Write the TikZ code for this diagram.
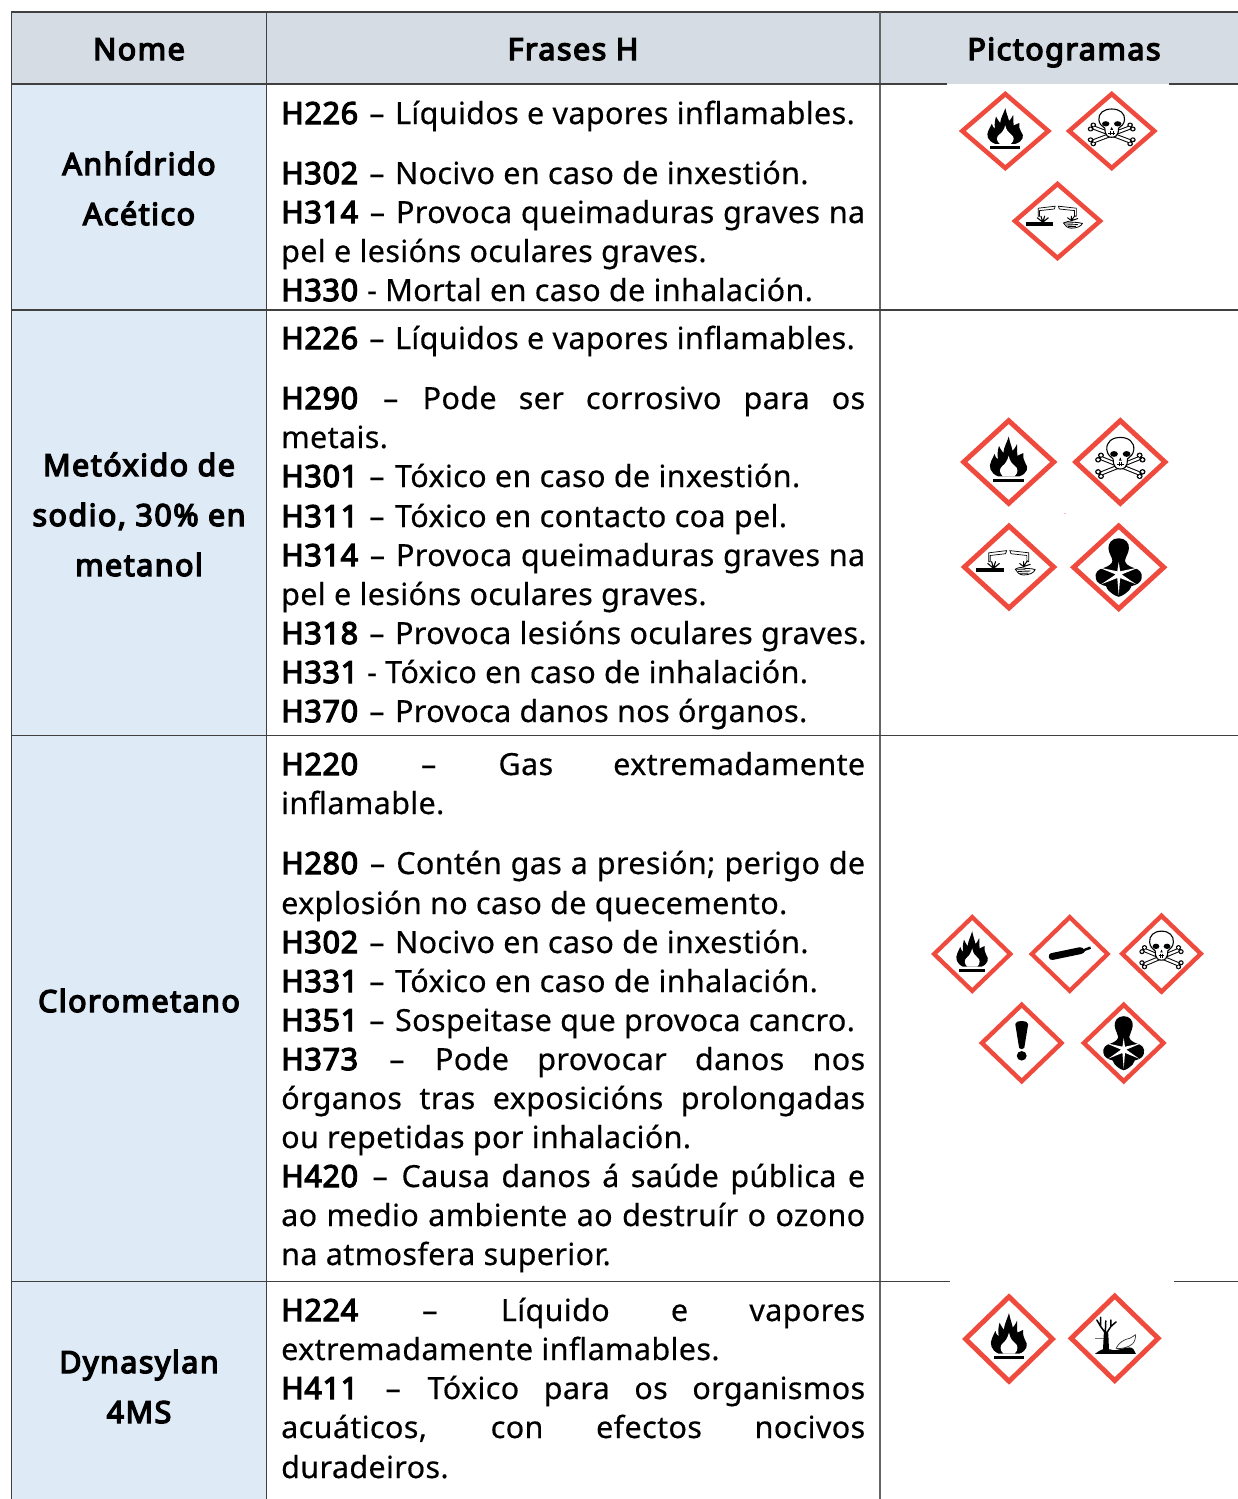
\documentclass[tikz,border=0pt]{standalone}
\usepackage{fontspec}
\setmainfont{Noto Sans}[BoldFont={Noto Sans},BoldFeatures={FakeBold=4,LetterSpace=2.2},LetterSpace=1.2,FakeBold=0.4]
\newfontfamily\capfont{Noto Sans}[FakeBold=4.5,LetterSpace=4.8]
\definecolor{headfill}{HTML}{D5DCE4}
\definecolor{namefill}{HTML}{DEEAF6}
\definecolor{gridcol}{HTML}{404040}
\definecolor{ghsred}{HTML}{EE4B3E}
\newcommand{\jl}[1]{\makebox[584pt][s]{#1}}
\newcommand{\hc}[1]{\textbf{#1}}
\newcommand{\dd}{\kern2.2pt–\kern2.2pt}
\newcommand{\ghsdmd}{\fill[ghsred,even odd rule] (-100,0)--(0,-100)--(100,0)--(0,100)--cycle (-85,0)--(0,-85)--(85,0)--(0,85)--cycle;}
\tikzset{
  txt/.style={anchor=base west,inner sep=0pt,font=\fontsize{30.5}{35}\selectfont,text=black},
  captxt/.style={anchor=base,inner sep=0pt,font=\fontsize{30.5}{35}\capfont,text=black},
  gridline/.style={draw=gridcol,line width=1.5pt},
  ghsflame/.pic={
    \ghsdmd
    \fill[black] (-22,32) .. controls (-38,25) and (-42,10) .. (-36,-2)
      .. controls (-34,-8) and (-31,-12) .. (-29,-18)
      .. controls (-27,-10) and (-25,-8) .. (-22,-6)
      .. controls (-24,-18) and (-22,-28) .. (-20,-36)
      .. controls (-17,-28) and (-13,-24) .. (-11,-20)
      .. controls (-10,-34) and (-3,-45) .. (0,-57)
      .. controls (2,-45) and (6,-35) .. (8,-25)
      .. controls (10,-28) and (14,-32) .. (17,-40)
      .. controls (18,-30) and (16,-22) .. (18,-14)
      .. controls (22,-16) and (26,-18) .. (30,-20)
      .. controls (30,-10) and (30,-4) .. (34,2)
      .. controls (42,12) and (38,26) .. (22,32) -- cycle;
    \fill[white] (-12,32) .. controls (-20,24) and (-20,14) .. (-12,8)
      .. controls (-8,5) and (-3,-2) .. (0,-14)
      .. controls (2,-2) and (7,4) .. (12,8)
      .. controls (20,14) and (20,24) .. (12,32) -- cycle;
    \fill[black] (-32,38) rectangle (32,44);
  },
  ghsskull/.pic={
    \ghsdmd
    \foreach \a/\b/\c/\d in {-38/-8/38/25,38/-8/-38/25}{
      \draw[black,line width=4.2pt,line cap=round] (\a,\b) -- (\c,\d);
    }
    \foreach \sx in {-1,1}{
      \fill[black] (\sx*40,-15) circle[radius=6.2] (\sx*46,-5) circle[radius=6.2]
                   (\sx*40,32) circle[radius=6.2] (\sx*46,22) circle[radius=6.2];
      \fill[white] (\sx*40,-15) circle[radius=3.6] (\sx*46,-5) circle[radius=3.6]
                   (\sx*40,32) circle[radius=3.6] (\sx*46,22) circle[radius=3.6];
    }
    \foreach \a/\b/\c/\d in {-38/-8/38/25,38/-8/-38/25}{
      \draw[white,line width=2.2pt,line cap=round] (\a,\b) -- (\c,\d);
    }
    \draw[black,line width=1.1pt,fill=white] (0,-55) .. controls (-18,-55) and (-29,-44) .. (-28,-28)
      .. controls (-27,-17) and (-21,-12) .. (-15,-7)
      .. controls (-15,0) and (-14,8) .. (-10,12)
      .. controls (-6,17) and (6,17) .. (10,12)
      .. controls (14,8) and (15,0) .. (15,-7)
      .. controls (21,-12) and (27,-17) .. (28,-28)
      .. controls (29,-44) and (18,-55) .. (0,-55) -- cycle;
    \fill[black] (-13,-18) ellipse[x radius=8,y radius=6.5] (13,-18) ellipse[x radius=8,y radius=6.5];
    \fill[black] (0,-10) -- (-3,-3) -- (3,-3) -- cycle;
    \draw[black,line width=.7pt] (-7,5) -- (7,5) (-3,1) -- (-3,10) (3,1) -- (3,10);
  },
  ghscorr/.pic={
    \ghsdmd
    \draw[black,line width=.7pt,fill=white] (-39,-26) -- (-7,-30) -- (-5,-37) -- (-42,-32) -- (-42,-12) -- (-39,-12) -- cycle;
    \draw[black,line width=.7pt,fill=white] (37,-26) -- (4,-30) -- (2,-37) -- (41,-32) -- (41,-12) -- (37,-12) -- cycle;
    \fill[black] (-68,3) rectangle (-10,12);
    \draw[black,line width=1.1pt,line cap=round] (-32,3) -- (-44,-8) (-32,3) -- (-36,-12) (-32,3) -- (-28,-12) (-32,3) -- (-20,-8);
    \draw[black,line width=1pt,line cap=round] (30,-1) -- (22,-8) (30,-1) -- (30,-12) (30,-1) -- (38,-14) (30,-1) -- (44,-6);
    \draw[black,line width=.8pt,fill=white] (13,5) .. controls (18,1) and (26,0) .. (33,3)
      .. controls (40,4) and (48,3) .. (54,6)
      .. controls (52,13) and (42,18) .. (30,18)
      .. controls (22,18) and (16,12) .. (13,5) -- cycle;
    \draw[black,line width=.9pt] (15,5) -- (34,5) (19,10) -- (44,9) (23,14) -- (40,14);
  },
  ghshealth/.pic={
    \ghsdmd
    \fill[black] (0,-65) .. controls (-14,-65) and (-22,-54) .. (-21,-42)
      .. controls (-20,-30) and (-14,-24) .. (-13,-15)
      .. controls (-13,-8) and (-20,-3) .. (-30,1)
      .. controls (-42,4) and (-50,12) .. (-47,25)
      .. controls (-46,34) and (-36,40) .. (-26,42)
      .. controls (-24,50) and (-18,56) .. (-12,60)
      .. controls (-8,62) and (-4,66) .. (0,66)
      .. controls (4,66) and (8,62) .. (12,60)
      .. controls (18,56) and (24,50) .. (26,42)
      .. controls (36,40) and (46,34) .. (47,25)
      .. controls (50,12) and (42,4) .. (30,1)
      .. controls (20,-3) and (13,-8) .. (13,-15)
      .. controls (14,-24) and (20,-30) .. (21,-42)
      .. controls (22,-54) and (14,-65) .. (0,-65) -- cycle;
    \fill[white] (0,-12) -- (3,9) -- (42,0) -- (6,16) -- (36,38) -- (3,24) -- (0,62) -- (-3,24) -- (-36,38) -- (-6,16) -- (-42,0) -- (-3,9) -- cycle;
    \fill[white] (0,17) circle[radius=7];
  },
  ghsgas/.pic={
    \ghsdmd
    \fill[black] (-46,-2) -- (24,-17) .. controls (30,-18) and (33,-14) .. (34,-12) -- (37,-14) -- (50,-19) -- (52,-13) -- (38,-8)
      .. controls (36,-4) and (32,-1) .. (28,0) -- (-42,15) .. controls (-52,17) and (-54,0) .. (-46,-2) -- cycle;
  },
  ghsexcl/.pic={
    \ghsdmd
    \fill[black] (-15,-46) .. controls (-14,-56) and (14,-56) .. (15,-46) -- (6,12) .. controls (4,16) and (-4,16) .. (-6,12) -- cycle;
    \fill[black] (0,31) circle[radius=11.5];
  },
  ghsenv/.pic={
    \ghsdmd
    \fill[black!55] (-42,-1) rectangle (-12,1);
    \fill[black] (-25,26) -- (-23,-14) -- (-14,-14) -- (-12,26) -- cycle;
    \draw[black,line width=1.5pt,line cap=round] (-20,-12) -- (-30,-26) -- (-38,-40) (-30,-26) -- (-30,-46)
      (-20,-12) -- (-19,-38) (-17,-12) -- (-8,-26) -- (-8,-40) (-8,-26) -- (3,-36);
    \draw[black!80,line width=.7pt,fill=white] (3,22) .. controls (8,10) and (20,2) .. (32,0)
      .. controls (37,-2) and (41,-6) .. (44,-8) .. controls (45,0) and (42,8) .. (38,12)
      .. controls (30,20) and (12,24) .. (3,22) -- cycle;
    \fill[black] (-42,34) .. controls (-36,30) and (-32,26) .. (-26,24) -- (-10,24) .. controls (0,29) and (8,24) .. (18,22) .. controls (28,20) and (36,18) .. (40,24) -- (45,34) -- cycle;
  }
}
\begin{document}
\begin{tikzpicture}[x=1pt,y=-1pt]
\useasboundingbox (0,0) rectangle (1238,1499);
% fills
\fill[headfill] (11.5,12) rectangle (1238,84);
\fill[namefill] (11.5,84) rectangle (266.5,1499);
% grid
\draw[gridline] (1238,12) -- (11.5,12) -- (11.5,1499);
\draw[gridline] (266.5,12) -- (266.5,1499);
\draw[gridline,draw=black!60] (880,12) -- (880,1499);
\draw[gridline] (11.5,84) -- (947,84);
\draw[gridline] (1169,84) -- (1238,84);
\draw[gridline] (11.5,310) -- (1238,310);
\draw[gridline] (11.5,735.4) -- (1238,735.4);
\draw[gridline] (11.5,1281.5) -- (950,1281.5);
\draw[gridline] (1174,1281.5) -- (1238,1281.5);
% header
\node[captxt] (hn) at (139,60) {Nome};
\node[captxt] (hf) at (573,60) {Frases H};
\node[captxt] (hp) at (1064,60) {Pictogramas};
% names
\node[captxt] (n1a) at (139,175) {Anhídrido};
\node[captxt] (n1b) at (139,225) {Acético};
\node[captxt] (n2a) at (139,476) {Metóxido de};
\node[captxt] (n2b) at (139,526) {sodio, 30\% en};
\node[captxt] (n2c) at (139,576) {metanol};
\node[captxt] (n3a) at (139,1012) {Clorometano};
\node[captxt] (n4a) at (139,1373) {Dynasylan};
\node[captxt] (n4b) at (139,1423) {4MS};
% row 1
\node[txt] (a1) at (281,124) {\hc{H226} \dd{} Líquidos e vapores inflamables.};
\node[txt] (a2) at (281,184) {\hc{H302} \dd{} Nocivo en caso de inxestión.};
\node[txt] (a3) at (281,223) {\jl{\hc{H314} \dd{} Provoca queimaduras graves na}};
\node[txt] (a4) at (281,262) {pel e lesións oculares graves.};
\node[txt] (a5) at (281,301) {\hc{H330} - Mortal en caso de inhalación.};
% row 2
\node[txt] (b1) at (281,349) {\hc{H226} \dd{} Líquidos e vapores inflamables.};
\node[txt] (b2) at (281,409) {\jl{\hc{H290} \dd{} Pode ser corrosivo para os}};
\node[txt] (b3) at (281,448) {metais.};
\node[txt] (b4) at (281,487) {\hc{H301} \dd{} Tóxico en caso de inxestión.};
\node[txt] (b5) at (281,527) {\hc{H311} \dd{} Tóxico en contacto coa pel.};
\node[txt] (b6) at (281,566) {\jl{\hc{H314} \dd{} Provoca queimaduras graves na}};
\node[txt] (b7) at (281,605) {pel e lesións oculares graves.};
\node[txt] (b8) at (281,644) {\hc{H318} \dd{} Provoca lesións oculares graves.};
\node[txt] (b9) at (281,683) {\hc{H331} - Tóxico en caso de inhalación.};
\node[txt] (b10) at (281,722) {\hc{H370} \dd{} Provoca danos nos órganos.};
% row 3
\node[txt] (c1) at (281,775) {\jl{\hc{H220} \dd{} Gas extremadamente}};
\node[txt] (c2) at (281,814) {inflamable.};
\node[txt] (c3) at (281,874) {\jl{\hc{H280} \dd{} Contén gas a presión; perigo de}};
\node[txt] (c4) at (281,914) {explosión no caso de quecemento.};
\node[txt] (c5) at (281,953) {\hc{H302} \dd{} Nocivo en caso de inxestión.};
\node[txt] (c6) at (281,992) {\hc{H331} \dd{} Tóxico en caso de inhalación.};
\node[txt] (c7) at (281,1031) {\hc{H351} \dd{} Sospeitase que provoca cancro.};
\node[txt] (c8) at (281,1070) {\jl{\hc{H373} \dd{} Pode provocar danos nos}};
\node[txt] (c9) at (281,1109) {\jl{órganos tras exposicións prolongadas}};
\node[txt] (c10) at (281,1148) {ou repetidas por inhalación.};
\node[txt] (c11) at (281,1187) {\jl{\hc{H420} \dd{} Causa danos á saúde pública e}};
\node[txt] (c12) at (281,1226) {\jl{ao medio ambiente ao destruír o ozono}};
\node[txt] (c13) at (281,1265) {na atmosfera superior.};
% row 4
\node[txt] (d1) at (281,1321) {\jl{\hc{H224} \dd{} Líquido e vapores}};
\node[txt] (d2) at (281,1360) {extremadamente inflamables.};
\node[txt] (d3) at (281,1399) {\jl{\hc{H411} \dd{} Tóxico para os organismos}};
\node[txt] (d4) at (281,1438) {\jl{acuáticos, con efectos nocivos}};
\node[txt] (d5) at (281,1478) {duradeiros.};
% pictograms
\pic[xscale=.465,yscale=.40] at (1005.3,131) {ghsflame};
\pic[xscale=.46,yscale=.40] at (1111.7,131) {ghsskull};
\pic[xscale=.46,yscale=.40] at (1057.5,221) {ghscorr};
\pic[xscale=.487,yscale=.447] at (1008.7,462) {ghsflame};
\pic[xscale=.483,yscale=.447] at (1120.3,462) {ghsskull};
\pic[xscale=.483,yscale=.443] at (1009,567) {ghscorr};
\pic[xscale=.487,yscale=.447] at (1118.7,567.3) {ghshealth};
\fill[ghsred!40] (1063.5,512.5) rectangle (1065.5,513.5);
\pic[xscale=.412,yscale=.398] at (972.2,954) {ghsflame};
\pic[xscale=.41,yscale=.398] at (1069.7,954) {ghsgas};
\pic[xscale=.425,yscale=.41] at (1161.5,953.7) {ghsskull};
\pic[xscale=.43,yscale=.413] at (1021.7,1043) {ghsexcl};
\pic[xscale=.43,yscale=.413] at (1123.7,1043) {ghshealth};
\pic[xscale=.47,yscale=.457] at (1009,1339) {ghsflame};
\pic[xscale=.47,yscale=.457] at (1114.7,1338.3) {ghsenv};
\end{tikzpicture}
\end{document}
